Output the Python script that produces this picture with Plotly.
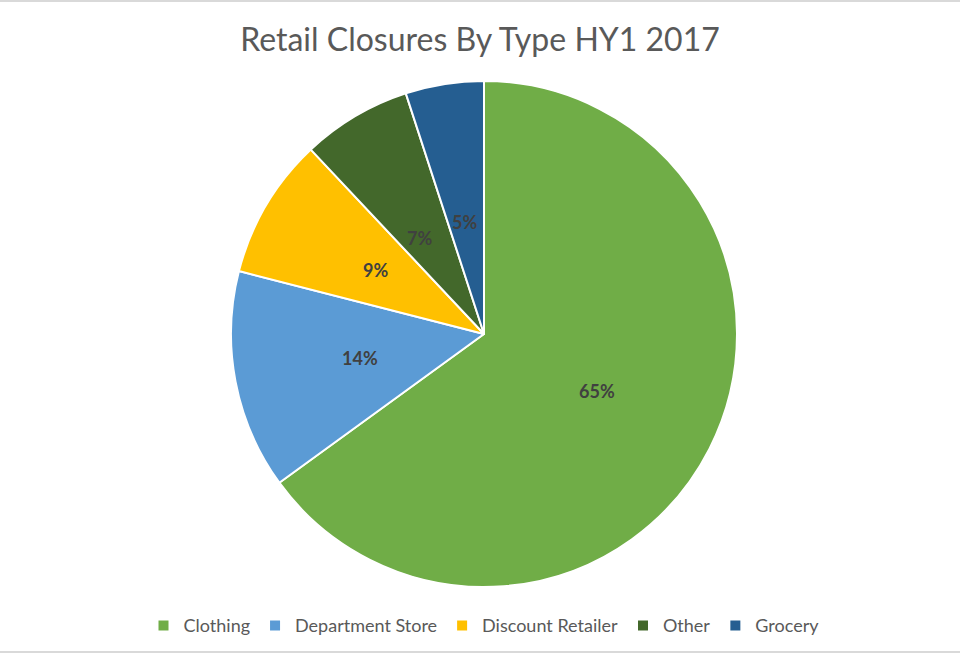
import math
import plotly.graph_objects as go

categories = ["Clothing", "Department Store", "Discount Retailer", "Other", "Grocery"]
values = [65, 14, 9, 7, 5]
colors = ["#70AD47", "#5B9BD5", "#FFC000", "#43682B", "#255E91"]

W, H = 960, 654
ML, MR, MT, MB = 8, 0, 81, 67
PW, PH = W - ML - MR, H - MT - MB
R = min(PW, PH) / 2
FONT = "Lato, Open Sans, sans-serif"

fig = go.Figure(go.Pie(
    labels=categories,
    values=values,
    sort=False,
    direction="clockwise",
    rotation=0,
    marker=dict(colors=colors, line=dict(color="white", width=2)),
    textinfo="none",
    hoverinfo="label+percent",
))

# data labels at half radius along each slice's mid angle (Excel-style)
total = sum(values)
annotations = []
cum = 0
for v in values:
    mid = (cum + v / 2) / total * 2 * math.pi
    cum += v
    dx = 0.5 * R * math.sin(mid)
    dy = 0.5 * R * math.cos(mid)
    annotations.append(dict(
        x=0.5 + dx / PW, y=0.5 + dy / PH, xref="paper", yref="paper",
        text="<b>%d%%</b>" % round(100 * v / total), showarrow=False,
        font=dict(family=FONT, size=18, color="#404040"),
    ))

fig.update_layout(
    width=W, height=H,
    paper_bgcolor="white",
    margin=dict(l=ML, r=MR, t=MT, b=MB),
    title=dict(text="Retail Closures By Type HY1 2017", x=0.5, xanchor="center",
               y=1 - 40 / H, yanchor="middle",
               font=dict(family=FONT, size=32, color="#595959")),
    legend=dict(orientation="h", x=0.5, xanchor="center", y=-0.04, yanchor="top",
                font=dict(family=FONT, size=18, color="#595959"),
                itemwidth=30, tracegroupgap=0),
    showlegend=True,
    annotations=annotations,
    shapes=[
        dict(type="line", xref="paper", yref="paper", x0=-0.02, x1=1.02,
             y0=1 + 80 / PH, y1=1 + 80 / PH, line=dict(color="#D9D9D9", width=2)),
        dict(type="line", xref="paper", yref="paper", x0=-0.02, x1=1.02,
             y0=-65 / PH, y1=-65 / PH, line=dict(color="#D9D9D9", width=2)),
    ],
)

fig.write_html("out.html", config={"displayModeBar": False},
               post_script="document.body.style.margin='0';")
